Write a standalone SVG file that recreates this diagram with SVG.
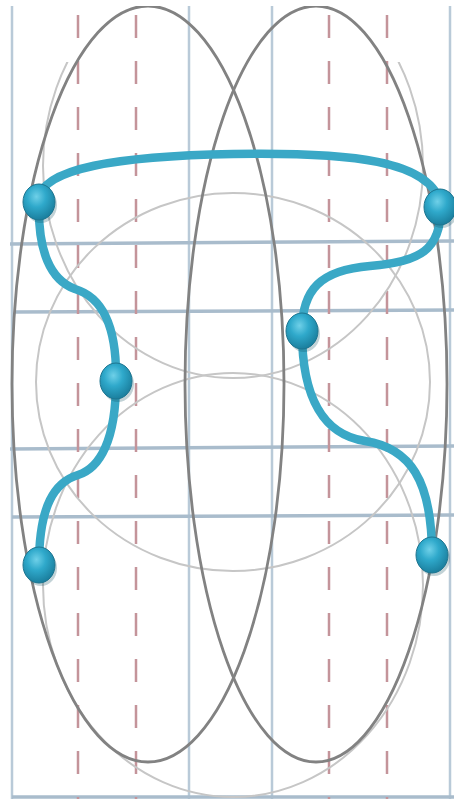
<svg xmlns="http://www.w3.org/2000/svg" width="454" height="799" viewBox="0 0 454 799">
  <defs>
    <radialGradient id="ball" cx="0.42" cy="0.35" r="0.65">
      <stop offset="0" stop-color="#6fd0e8"/>
      <stop offset="0.45" stop-color="#2fa9cb"/>
      <stop offset="1" stop-color="#1b7f9e"/>
    </radialGradient>
    <clipPath id="frame"><rect x="0" y="6" width="454" height="793"/></clipPath>
    <clipPath id="lowerpart"><rect x="0" y="62" width="454" height="737"/></clipPath>
    <style>
      .vgrid { stroke: #b9cad8; stroke-width: 2.5; fill: none; }
      .hgrid { stroke: #a9bccc; stroke-width: 3.5; fill: none; }
      .dash { stroke: #c4949a; stroke-width: 2.5; stroke-dasharray: 23 23; fill: none; }
      .dark { stroke: #828282; stroke-width: 2.8; fill: none; }
      .light { stroke: #c6c6c6; stroke-width: 2; fill: none; }
      .conn { stroke: #3aa8c6; stroke-width: 8.5; fill: none; stroke-linecap: round; }
      .node { fill: url(#ball); stroke: #1d7590; stroke-width: 1; }
      .shadow { fill: #0d4a5c; opacity: 0.25; }
    </style>
  </defs>
  <rect width="454" height="799" fill="#ffffff"/>
  <g id="background" clip-path="url(#frame)">
    <line class="vgrid" x1="12" y1="6" x2="12" y2="799"/>
    <line class="vgrid" x1="450" y1="6" x2="450" y2="799"/>
    <line class="vgrid" x1="189" y1="6" x2="189" y2="799"/>
    <line class="vgrid" x1="272" y1="6" x2="272" y2="799"/>
    <line class="hgrid" x1="10" y1="244" x2="454" y2="241"/>
    <line class="hgrid" x1="14" y1="312" x2="454" y2="310"/>
    <line class="hgrid" x1="10" y1="449" x2="454" y2="446"/>
    <line class="hgrid" x1="12" y1="517" x2="454" y2="515"/>
    <line class="hgrid" x1="12" y1="797" x2="454" y2="797"/>
    <line class="dash" x1="78" y1="15" x2="78" y2="799"/>
    <line class="dash" x1="136" y1="15" x2="136" y2="799"/>
    <line class="dash" x1="329" y1="15" x2="329" y2="799"/>
    <line class="dash" x1="387" y1="15" x2="387" y2="799"/>
    <ellipse class="light" cx="233" cy="166" rx="190" ry="212" clip-path="url(#lowerpart)"/>
    <ellipse class="light" cx="233" cy="585" rx="190" ry="212"/>
    <ellipse class="light" cx="233" cy="382" rx="197" ry="189"/>
    <ellipse class="dark" cx="148" cy="384" rx="136" ry="378"/>
    <ellipse class="dark" cx="316" cy="384" rx="131" ry="378"/>
  </g>
  <g id="connectors">
    <path class="conn" d="M39,200 C40,168 120,156 233,154 C350,152 432,160 441,205"/>
    <path class="conn" d="M39,205 C38,250 50,280 75,289 C105,298 117,330 116,381"/>
    <path class="conn" d="M116,381 C116,440 100,468 78,475 C55,482 39,505 39,565"/>
    <path class="conn" d="M441,207 C441,250 420,262 370,266 C320,270 302,290 302,331"/>
    <path class="conn" d="M302,331 C302,400 325,435 365,441 C410,448 432,480 432,555"/>
  </g>
  <g id="node-left-top">
    <ellipse class="shadow" cx="41" cy="205" rx="16" ry="18"/>
    <ellipse class="node" cx="39" cy="202" rx="16" ry="18"/>
  </g>
  <g id="node-right-top">
    <ellipse class="shadow" cx="442" cy="210" rx="16" ry="18"/>
    <ellipse class="node" cx="440" cy="207" rx="16" ry="18"/>
  </g>
  <g id="node-right-middle">
    <ellipse class="shadow" cx="304" cy="334" rx="16" ry="18"/>
    <ellipse class="node" cx="302" cy="331" rx="16" ry="18"/>
  </g>
  <g id="node-left-middle">
    <ellipse class="shadow" cx="118" cy="384" rx="16" ry="18"/>
    <ellipse class="node" cx="116" cy="381" rx="16" ry="18"/>
  </g>
  <g id="node-left-bottom">
    <ellipse class="shadow" cx="41" cy="568" rx="16" ry="18"/>
    <ellipse class="node" cx="39" cy="565" rx="16" ry="18"/>
  </g>
  <g id="node-right-bottom">
    <ellipse class="shadow" cx="434" cy="558" rx="16" ry="18"/>
    <ellipse class="node" cx="432" cy="555" rx="16" ry="18"/>
  </g>
</svg>
